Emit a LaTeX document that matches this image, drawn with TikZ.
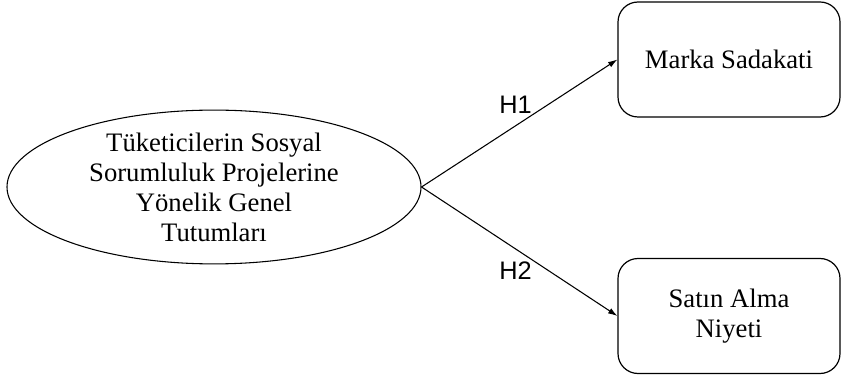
\documentclass[tikz,border=0pt]{standalone}
\usepackage{fontspec}
\setmainfont{Liberation Serif}
\newfontfamily\hfont{Liberation Sans}
\usetikzlibrary{arrows.meta,positioning,shapes}

\begin{document}
\begin{tikzpicture}[x=0.75pt,y=0.75pt,
            attitude/.style={draw,ellipse,line width=0.8pt,inner sep=0pt,minimum width=310.5pt,minimum height=105.75pt,align=center,font=\fontsize{20}{22.5}\selectfont},
            outcome/.style={draw,rectangle,rounded corners=15pt,line width=0.9pt,minimum width=166.5pt,minimum height=86.25pt,align=center,font=\fontsize{20}{22.5}\selectfont},
            hyp/.style={font=\hfont\fontsize{19}{22}\selectfont,inner sep=2pt},
            every path/.style={line width=0.8pt,>={Latex[length=7pt,width=4.5pt]}}
          ]
          \useasboundingbox (0,0) rectangle (842,375);
          %constructs
          \node[attitude] (tutum) at (214,188) {T\"uketicilerin Sosyal\\Sorumluluk Projelerine\\Y\"onelik Genel\\Tutumlar\i};
          \node[outcome] (sadakat) at (729,315.5) {Marka Sadakati};
          \node[outcome] (niyet) at (729,59) {Sat\i n Alma\\Niyeti};

          %hypotheses
          \path
          (tutum.east) edge[->] node[hyp,pos=.48,above=7pt] (h1) {H1} (sadakat.west)
          (tutum.east) edge[->] node[hyp,pos=.48,below=7pt] (h2) {H2} (niyet.west)
          ;
\end{tikzpicture}
\end{document}
